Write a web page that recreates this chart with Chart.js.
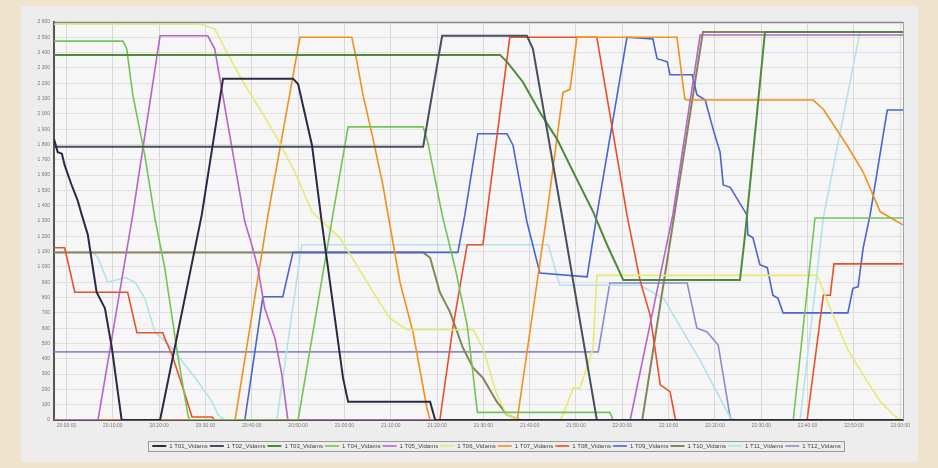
<!DOCTYPE html>
<html>
<head>
<meta charset="utf-8">
<script src="https://cdn.jsdelivr.net/npm/chart.js@4.4.1/dist/chart.umd.min.js"></script>
<style>
  html, body { margin: 0; padding: 0; background: #efe3cd; }
  #wrap { position: absolute; left: 0; top: 0; width: 938px; height: 468px; }
</style>
</head>
<body>
<div id="wrap"><canvas id="c" width="938" height="468"></canvas></div>
<script>
// ---- DATA (x = minutes after the first time label, y = value) ----
const tickMinutes = [0,10,20,30,40,50,60,70,80,90,100,110,120,130,140,150,160,170,180];
const tickLabels = ["20:00:00","20:10:00","20:20:00","20:30:00","20:40:00","20:50:00","21:00:00","21:10:00","21:20:00","21:30:00","21:40:00","21:50:00","22:00:00","22:10:00","22:20:00","22:30:00","22:40:00","22:50:00","23:00:00"];
const seriesNames = ["1 T01_Vidams","1 T02_Vidams","1 T03_Vidams","1 T04_Vidams","1 T05_Vidams","1 T06_Vidams","1 T07_Vidams","1 T08_Vidams","1 T09_Vidams","1 T10_Vidams","1 T11_Vidams","1 T12_Vidams"];
const seriesColors = ["#2a2a42","#46505e","#4f8a3c","#74c455","#b466c8","#e8e874","#f0901e","#e8502a","#4a64d0","#85855a","#b4e2ea","#8c8cc8"];

const sBlack = [[-2.7,1835],[-1.9,1750],[-1.0,1740],[-0.4,1665],[1.1,1535],[2.4,1435],[3.3,1340],[4.6,1210],[6.5,835],[8.3,730],[9.8,470],[11.9,0],[20.2,0],[29.2,1340],[33.8,2230],[48.9,2230],[50.0,2195],[53.0,1795],[55.1,1295],[59.7,275],[60.8,120],[78.5,120],[79.6,0],[180.6,0]];
const sSlate = [[-2.7,1785],[77.0,1785],[81.1,2510],[99.4,2510],[100.7,2425],[107.2,1295],[114.5,0],[180.6,0]];
const sDarkGreen = [[-2.7,2385],[93.6,2385],[95.1,2340],[98.5,2210],[102.2,2010],[105.9,1835],[109.4,1620],[113.7,1360],[116.7,1145],[120.2,915],[145.4,915],[146.5,1210],[150.8,2535],[180.6,2535]];
const sGreen = [[-2.7,2475],[12.2,2475],[13.0,2425],[14.3,2125],[16.9,1730],[19.1,1315],[21.2,995],[24.0,425],[26.2,35],[26.6,0],[50.0,0],[57.5,1340],[60.8,1915],[77.0,1915],[78.0,1815],[81.1,1340],[83.9,995],[86.5,620],[87.8,295],[88.7,50],[117.3,50],[118.0,0],[156.9,0],[161.6,1320],[180.6,1320]];
const sPurple = [[-2.7,0],[6.8,0],[14.3,1340],[20.2,2510],[30.5,2510],[32.0,2425],[38.5,1295],[40.0,1145],[41.3,995],[42.8,730],[45.0,535],[46.5,295],[47.8,0],[121.7,0],[130.9,1340],[136.8,2515],[180.6,2515]];
const sYellow = [[-2.7,2585],[29.2,2585],[32.0,2555],[35.7,2340],[38.5,2190],[42.2,2010],[45.6,1835],[49.3,1620],[53.0,1360],[59.0,1190],[62.7,1010],[66.2,835],[69.8,665],[73.5,590],[87.8,590],[89.9,470],[92.9,165],[95.1,35],[97.9,0],[106.5,0],[107.2,35],[109.4,210],[110.9,210],[113.7,470],[114.5,945],[162.1,945],[164.9,730],[168.5,470],[172.0,295],[175.7,120],[178.5,35],[180.0,0]];
const sOrange = [[-2.7,0],[36.4,0],[43.5,1340],[50.4,2500],[61.6,2500],[62.7,2340],[64.0,2125],[66.2,1835],[68.3,1535],[72.0,900],[74.8,575],[77.8,80],[78.5,0],[97.3,0],[103.7,1340],[107.2,2140],[108.7,2160],[110.2,2500],[131.8,2500],[133.5,2095],[134.0,2090],[161.2,2090],[163.4,2030],[168.5,1795],[172.0,1620],[175.7,1360],[180.6,1275]];
const sRed = [[-2.7,1125],[-0.4,1125],[1.8,835],[13.2,835],[15.2,570],[20.8,570],[21.2,535],[22.8,425],[25.6,165],[27.1,20],[31.4,20],[32.0,0],[80.6,0],[83.4,600],[86.5,1145],[89.9,1145],[95.7,2500],[114.5,2500],[121.0,1340],[123.8,915],[126.0,685],[128.2,230],[130.3,185],[131.4,15],[131.6,0],[159.9,0],[163.4,815],[164.9,815],[165.7,1020],[180.6,1020]];
const sBlue = [[-2.7,0],[38.5,0],[42.4,805],[46.7,805],[48.9,1095],[84.5,1095],[86.0,1340],[88.8,1870],[95.1,1870],[96.4,1795],[99.4,1295],[102.2,960],[112.4,935],[114.5,1340],[121.0,2500],[126.6,2490],[127.5,2360],[129.7,2340],[130.3,2255],[135.1,2255],[136.1,2125],[137.9,2090],[139.6,1900],[141.1,1750],[141.8,1535],[143.3,1520],[146.9,1340],[147.1,1210],[148.2,1190],[149.7,1015],[151.3,995],[152.5,815],[153.6,795],[154.7,700],[168.7,700],[169.8,860],[170.9,870],[172.0,1125],[173.5,1340],[177.2,2025],[180.6,2025]];
const sKhaki = [[-2.7,1095],[77.0,1095],[78.5,1060],[80.6,835],[82.8,705],[85.6,470],[87.8,340],[89.9,275],[92.9,120],[95.1,35],[97.9,0],[124.3,0],[137.4,2535],[180.6,2535]];
const sPaleCyan = [[-2.7,1095],[5.7,1095],[6.8,1060],[8.9,900],[12.6,930],[14.8,900],[16.9,795],[19.1,575],[22.8,470],[25.6,360],[28.4,250],[31.4,120],[32.7,35],[34.2,0],[45.4,0],[50.8,1145],[104.0,1145],[106.5,880],[123.8,880],[128.9,795],[136.8,390],[143.3,15],[144.1,0],[158.4,0],[163.4,1320],[171.3,2535],[180.6,2535]];
const sLavender = [[-2.7,445],[114.8,445],[117.3,895],[134.0,895],[136.1,600],[138.3,575],[140.7,490],[143.3,15],[144.1,0],[180.6,0]];

const allSeries = [sBlack,sSlate,sDarkGreen,sGreen,sPurple,sYellow,sOrange,sRed,sBlue,sKhaki,sPaleCyan,sLavender];

// ---- layout constants ----
const PLOT_LEFT = 54, PLOT_RIGHT_PAD = 35, PLOT_TOP = 22, PLOT_BOTTOM = 420, PAD_BOTTOM = 9, LEGEND_SHIFT = 45;

function fmt(v) {
  if (v >= 1000) return Math.floor(v / 1000) + " " + String(v % 1000).padStart(3, "0");
  return String(v);
}

const bgPlugin = {
  id: "bg",
  afterLayout(chart) {
    const lg = chart.legend;
    if (lg) { lg.left += LEGEND_SHIFT; lg.right += LEGEND_SHIFT; }
  },
  beforeDraw(chart) {
    const ctx = chart.ctx, a = chart.chartArea;
    ctx.save();
    ctx.fillStyle = "#efe3cd";
    ctx.fillRect(0, 0, chart.width, chart.height);
    ctx.fillStyle = "#ededed";
    ctx.fillRect(21, 6, 897, 456);
    ctx.fillStyle = "#f6f6f6";
    ctx.fillRect(a.left, a.top, a.right - a.left, a.bottom - a.top);
    ctx.restore();
  },
  afterDraw(chart) {
    const ctx = chart.ctx, a = chart.chartArea;
    ctx.save();
    ctx.strokeStyle = "#8a8a8a";
    ctx.lineWidth = 1.5;
    ctx.beginPath();
    ctx.moveTo(a.left, a.top + 0.5); ctx.lineTo(a.right, a.top + 0.5);
    ctx.stroke();
    ctx.lineWidth = 1;
    ctx.strokeStyle = "#a0a0a0";
    ctx.beginPath();
    ctx.moveTo(a.right + 0.5, a.top); ctx.lineTo(a.right + 0.5, a.bottom);
    ctx.stroke();
    // legend frame
    const lg = chart.legend;
    if (lg && lg.legendHitBoxes && lg.legendHitBoxes.length) {
      const hb = lg.legendHitBoxes;
      const x0 = hb[0].left - 4, x1 = hb[hb.length - 1].left + hb[hb.length - 1].width + 4;
      const y0 = hb[0].top - 2, y1 = hb[0].top + hb[0].height + 2;
      ctx.strokeStyle = "#9a9a9a";
      ctx.strokeRect(Math.round(x0) + 0.5, Math.round(y0) + 0.5, Math.round(x1 - x0), Math.round(y1 - y0));
    }
    ctx.restore();
  }
};

const datasets = allSeries.map((s, i) => ({
  label: seriesNames[i],
  data: s.map(p => ({ x: p[0], y: p[1] })),
  borderColor: seriesColors[i],
  backgroundColor: seriesColors[i],
  borderWidth: (i < 3 || i === 9) ? 2 : 1.6,
  pointRadius: 0,
  tension: 0,
  fill: false
}));

new Chart(document.getElementById("c"), {
  type: "line",
  data: { datasets },
  plugins: [bgPlugin],
  options: {
    responsive: false,
    animation: false,
    layout: { padding: { left: 0, right: PLOT_RIGHT_PAD, top: PLOT_TOP, bottom: PAD_BOTTOM } },
    plugins: {
      tooltip: { enabled: false },
      legend: {
        position: "bottom",
        labels: {
          usePointStyle: true,
          pointStyle: "line",
          pointStyleWidth: 14,
          padding: 2,
          color: "#444",
          font: { family: "Liberation Sans", size: 6 }
        }
      }
    },
    scales: {
      x: {
        type: "linear",
        min: -2.7,
        max: 180.6,
        afterBuildTicks(scale) { scale.ticks = tickMinutes.map(v => ({ value: v })); },
        afterFit(scale) {
          const lh = scale.chart.legend ? scale.chart.legend.height : 0;
          scale.height = scale.chart.height - PAD_BOTTOM - lh - PLOT_BOTTOM;
        },
        ticks: {
          autoSkip: false,
          maxRotation: 0,
          padding: 3,
          color: "#777",
          font: { family: "Liberation Sans", size: 5 },
          callback(value, index) { return tickLabels[index]; }
        },
        grid: { color: "#d9d9d9", lineWidth: 1, drawTicks: false },
        border: { color: "#555", width: 2 }
      },
      y: {
        min: 0,
        max: 2600,
        afterFit(scale) { scale.width = PLOT_LEFT; },
        ticks: {
          stepSize: 100,
          autoSkip: false,
          padding: 4,
          color: "#777",
          font: { family: "Liberation Sans", size: 5 },
          callback(value) { return fmt(value); }
        },
        grid: { color: "#e0e0e0", lineWidth: 1, drawTicks: false },
        border: { color: "#555", width: 2 }
      }
    }
  }
});
</script>
</body>
</html>
